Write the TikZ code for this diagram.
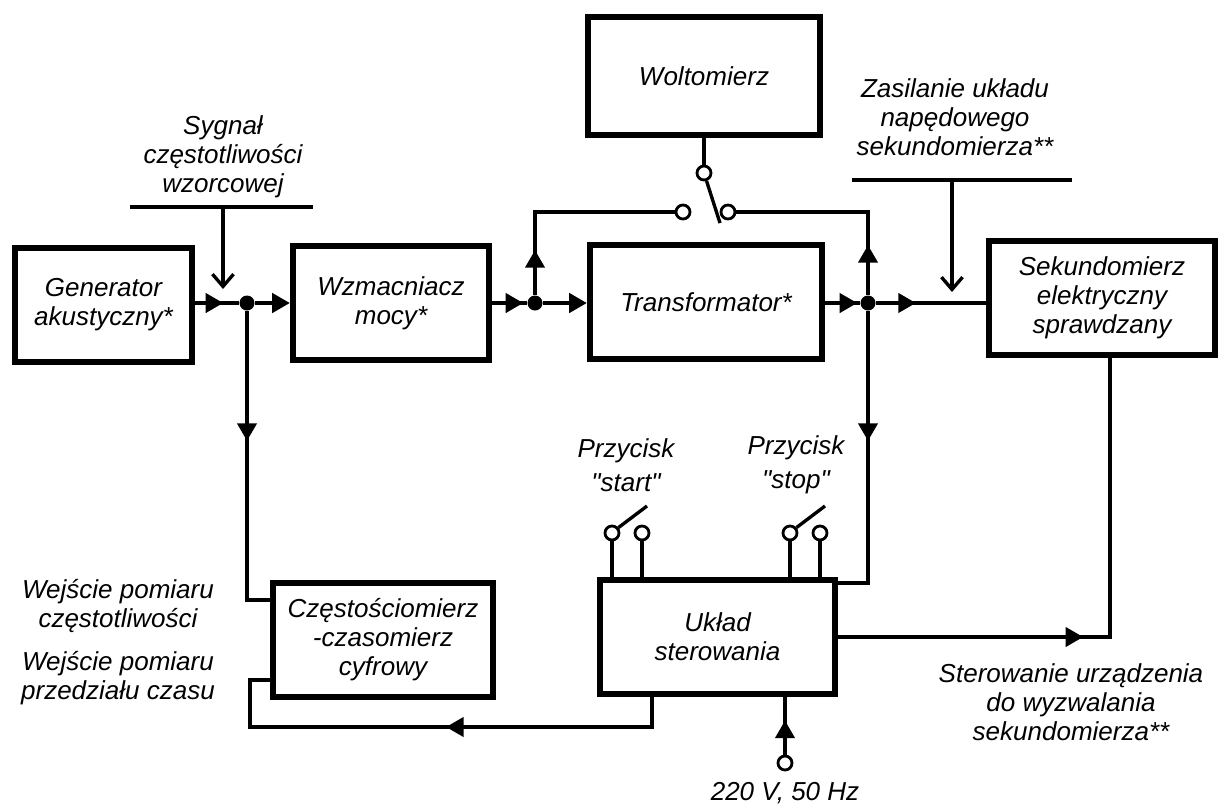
\documentclass[tikz,border=0pt]{standalone}
\usepackage{fontspec}
\setmainfont{Liberation Sans}
\usetikzlibrary{arrows.meta,decorations.markings}

\tikzset{
  blok/.style={draw, line width=3.4pt, align=center, inner sep=2pt},
  linia/.style={line width=1.9pt},
  kropka/.style={circle, fill, inner sep=0pt, minimum size=0.3cm},
  styk/.style={circle, draw, fill=white, line width=1.6pt, inner sep=0pt, minimum size=0.28cm},
  grot/.style={postaction={decorate}, decoration={markings,
      mark=at position #1 with {\arrow{Triangle[length=10pt,width=11pt]}}}},
  koniec/.style={-{Triangle[length=10pt,width=11pt]}},
  opis/.style={align=center},
}

\begin{document}
\begin{tikzpicture}[x=0.02cm, y=-0.02cm, font=\itshape\fontsize{14.8}{16.5}\selectfont]
	\fill[white] (0,0) rectangle (1225,806);
	\useasboundingbox (0,0) rectangle (1225,806);
	% bloki
	\node[blok, minimum width=3.55cm, minimum height=2.28cm] (gen) at (103.5,305) {Generator\\akustyczny*};
	\node[blok, minimum width=3.93cm, minimum height=2.28cm] (wzm) at (391,303) {Wzmacniacz\\mocy*};
	\node[blok, minimum width=4.65cm, minimum height=2.28cm] (trans) at (706,302) {Transformator*};
	\node[blok, minimum width=4.65cm, minimum height=2.36cm] (wolt) at (704,76) {Woltomierz};
	\node[blok, minimum width=4.51cm, minimum height=2.28cm] (sek) at (1102,298) {Sekundomierz\\elektryczny\\sprawdzany};
	\node[blok, minimum width=4.41cm, minimum height=2.28cm] (czest) at (383,640) {Częstościomierz\\-czasomierz\\cyfrowy};
	\node[blok, minimum width=4.71cm, minimum height=2.28cm] (uklad) at (717.5,637) {Układ\\sterowania};
	% wezly
	\node[kropka] (j1) at (247,303) {};
	\node[kropka] (j2) at (535,303) {};
	\node[kropka] (j3) at (868,303) {};
	% tor glowny
	\draw[linia, grot=0.56cm] (gen.east |- j1) -- (j1);
	\draw[linia, koniec] (j1) -- (j1 -| wzm.west);
	\draw[linia, grot=0.62cm] (wzm.east |- j2) -- (j2);
	\draw[linia, koniec] (j2) -- (j2 -| trans.west);
	\draw[linia, grot=0.64cm] (trans.east |- j3) -- (j3);
	\draw[linia, grot=0.8cm] (j3) -- (j3 -| sek.west);
	% przelacznik woltomierza
	\node[styk] (wg) at (704,173) {};
	\node[styk] (wl) at (683,212) {};
	\node[styk] (wp) at (728,212) {};
	\coordinate (wd) at (720,223);
	\draw[linia] (wolt.south -| wg) -- (wg);
	\draw[linia] (wg) -- (wd);
	\draw[linia, grot=0.9cm] (j2) |- (wl);
	\draw[linia, grot=1cm] (j3) |- (wp);
	% sygnal wzorcowy
	\node[opis] (sygnal) at (223,157) {Sygnał\\częstotliwości\\wzorcowej};
	\coordinate (sl) at (130,207);
	\coordinate (sp) at (313,207);
	\coordinate (sw) at (223,207);
	\coordinate (swk) at (223,289);
	\draw[linia] (sl) -- (sp);
	\draw[linia, -{Straight Barb[length=7pt,width=12pt]}] (sw) -- (swk);
	% zasilanie sekundomierza
	\node[opis] (zasil) at (955,117) {Zasilanie układu\\napędowego\\sekundomierza**};
	\coordinate (zl) at (852,180);
	\coordinate (zp) at (1072,180);
	\coordinate (zw) at (952,180);
	\coordinate (zwk) at (952,292);
	\draw[linia] (zl) -- (zp);
	\draw[linia, -{Straight Barb[length=7pt,width=12pt]}] (zw) -- (zwk);
	% odgalezienia w dol
	\draw[linia, grot=2.6cm] (j1) |- ([yshift=0.8cm]czest.west);
	\draw[linia, grot=2.6cm] (j3) |- ([yshift=1.08cm]uklad.east);
	\draw[linia, grot=4.9cm] (uklad.east) -| ([xshift=0.16cm]sek.south);
	\coordinate (ud) at ([xshift=-1.31cm]uklad.south);
	\coordinate (dol) at (250,727);
	\draw[linia, grot=4.72cm] (ud) -- (ud |- dol) -- (dol) |- ([yshift=-0.8cm]czest.west);
	% przyciski
	\node[styk] (sa) at (612,533) {};
	\node[styk] (sb) at (642,533) {};
	\coordinate (sd) at (647,506);
	\draw[linia] (sa) -- (sa |- uklad.north);
	\draw[linia] (sb) -- (sb |- uklad.north);
	\draw[linia] (sa.40) -- (sd);
	\node[styk] (ta) at (790,533) {};
	\node[styk] (tb) at (820,533) {};
	\coordinate (td) at (825,506);
	\draw[linia] (ta) -- (ta |- uklad.north);
	\draw[linia] (tb) -- (tb |- uklad.north);
	\draw[linia] (ta.40) -- (td);
	\node[opis] (start) at (626,465) {Przycisk\\[3pt]\textquotedbl start\textquotedbl};
	\node[opis] (stop) at (796,465) {Przycisk\\[3pt]\textquotedbl stop\textquotedbl};
	% zasilanie sieciowe
	\node[styk] (siec) at (785,763) {};
	\draw[linia, grot=0.68cm] (siec) -- (siec |- uklad.south);
	\node (siecopis) at (785,793) {220 V, 50 Hz};
	% opisy wejsc i wyjsc
	\node[opis] (wej1) at (118,606) {Wejście pomiaru\\częstotliwości};
	\node[opis] (wej2) at (118,678) {Wejście pomiaru\\przedziału czasu};
	\node[opis] (ster) at (1071,702) {Sterowanie urządzenia\\do wyzwalania\\sekundomierza**};
\end{tikzpicture}
\end{document}
